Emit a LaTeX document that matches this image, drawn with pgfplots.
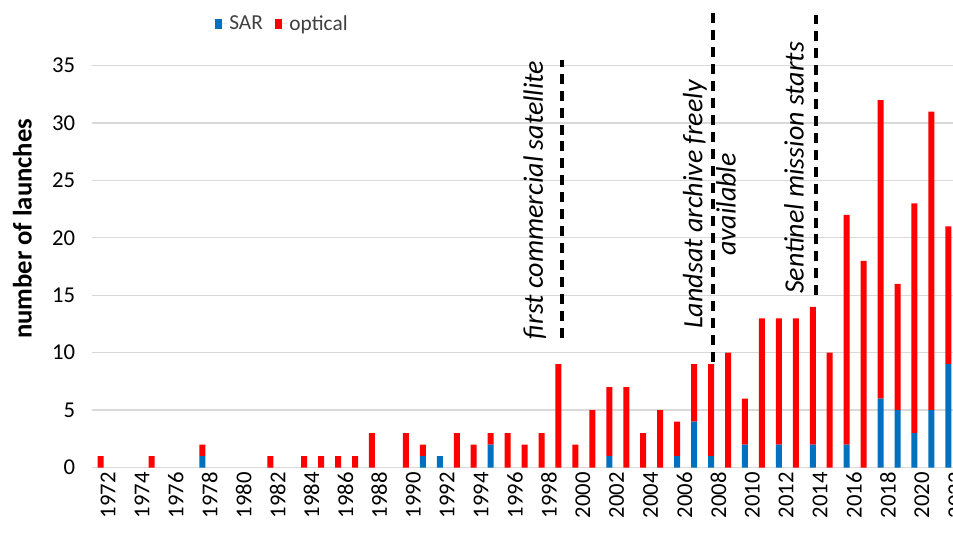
\documentclass[border=0pt]{standalone}
\usepackage{fontspec}
\setmainfont{Carlito}
\usepackage{pgfplots}
\pgfplotsset{compat=1.18}
\usepackage{pgfplotstable}
\definecolor{sarblue}{HTML}{0070C0}
\definecolor{optred}{HTML}{FF0000}
\definecolor{gridgray}{HTML}{D9D9D9}
\definecolor{legtext}{HTML}{404040}

\pgfplotstableread{
year sar opt
1972 0 1
1973 0 0
1974 0 0
1975 0 1
1976 0 0
1977 0 0
1978 1 1
1979 0 0
1980 0 0
1981 0 0
1982 0 1
1983 0 0
1984 0 1
1985 0 1
1986 0 1
1987 0 1
1988 0 3
1989 0 0
1990 0 3
1991 1 1
1992 1 0
1993 0 3
1994 0 2
1995 2 1
1996 0 3
1997 0 2
1998 0 3
1999 0 9
2000 0 2
2001 0 5
2002 1 6
2003 0 7
2004 0 3
2005 0 5
2006 1 3
2007 4 5
2008 1 8
2009 0 10
2010 2 4
2011 0 13
2012 2 11
2013 0 13
2014 2 12
2015 0 10
2016 2 20
2017 0 18
2018 6 26
2019 5 11
2020 3 20
2021 5 26
2022 9 12
}\launches

\begin{document}
\begin{tikzpicture}
\clip (-69.2pt,-48.4pt) rectangle (645.5pt,350.6pt);
\begin{axis}[
  at={(0,0)}, anchor=south west,
  scale only axis, width=648.4pt, height=301.35pt,
  xmin=1971.5, xmax=2022.5, ymin=0, ymax=35,
  clip=false,
  ybar stacked, bar width=4.5pt,
  axis line style={draw=none},
  major tick length=0pt,
  ymajorgrids, grid style={gridgray, line width=0.9pt},
  ytick={0,5,...,35},
  xtick={1972,1974,...,2022},
  /pgf/number format/assume math mode=true,
  /pgf/number format/1000 sep={},
  tick label style={font=\fontsize{17}{20}\selectfont, text=black},
  yticklabel style={xshift=-9.3pt},
  xticklabel style={rotate=90, anchor=east, yshift=-5.5pt},
  ylabel={number of launches},
  every axis y label/.style={at={(axis description cs:-0.081,0.594)}, rotate=90, anchor=center, font=\bfseries\fontsize{20}{24}\selectfont},
  legend style={at={(0.22,1.104)}, anchor=center, draw=none, fill=none,
    font=\fontsize{16}{19}\selectfont, text=legtext,
    /tikz/every even column/.append style={column sep=7pt}},
  legend columns=2,
]
\addplot[fill=sarblue, draw=none, legend image code/.code={\fill[sarblue] (0pt,-4pt) rectangle (5.5pt,4pt); \path (0pt,0pt) -- (9pt,0pt);}] table[x=year, y=sar] {\launches};
\addlegendentry{SAR}
\addplot[fill=optred, draw=none, legend image code/.code={\fill[optred] (0pt,-4pt) rectangle (5.5pt,4pt); \path (0pt,0pt) -- (9pt,0pt);}] table[x=year, y=opt] {\launches};
\addlegendentry{optical}

\draw[black, line width=3pt, dash pattern=on 7.5pt off 5.2pt] (axis cs:1999.19,11.3) -- (axis cs:1999.19,35.5);
\draw[black, line width=3pt, dash pattern=on 7.5pt off 5.2pt] (axis cs:2008.12,9.2) -- (axis cs:2008.12,40.1);
\draw[black, line width=3pt, dash pattern=on 7.5pt off 5.2pt] (axis cs:2014.18,15.0) -- (axis cs:2014.18,39.4);

\node[rotate=90, font=\itshape\fontsize{21}{25}\selectfont] at (axis cs:1997.6,23.3) {first commercial satellite};
\node[rotate=90, align=center, font=\itshape\fontsize{21}{25}\selectfont] at (axis cs:2007.9,22.9) {Landsat archive freely\\available};
\node[rotate=90, font=\itshape\fontsize{21}{25}\selectfont] at (axis cs:2012.9,26.1) {Sentinel mission starts};
\end{axis}
\end{tikzpicture}
\end{document}
